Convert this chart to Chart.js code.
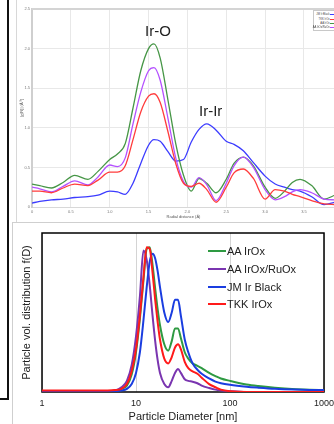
<!DOCTYPE html>
<html>
<head>
<meta charset="utf-8">
<script src="https://cdn.jsdelivr.net/npm/chart.js@4/dist/chart.umd.min.js"></script>
<style>
  html, body { margin: 0; padding: 0; background: #fff; }
  body { width: 334px; height: 424px; overflow: hidden; position: relative;
         font-family: "Liberation Sans", Arial, sans-serif; }
  .abs { position: absolute; }
  .tl { position: absolute; right: 4.5px; font-size: 6px; line-height: 6px; color: #444;
        transform: scale(0.45); transform-origin: 100% 50%; white-space: nowrap; }
  .sw { position: absolute; left: 330px; width: 5px; height: 1px; }
  .bl { position: absolute; left: 227px; font-size: 11px; line-height: 13px; color: #222; white-space: nowrap; }
  .bs { position: absolute; left: 208px; width: 18px; height: 2px; }
  .peak { position: absolute; font-size: 15px; line-height: 15px; color: #222; }
</style>
</head>
<body>
<!-- frames of the composite picture -->
<div class="abs" style="left:7px;top:0;width:2px;height:399px;background:#111"></div>
<div class="abs" style="left:0;top:398px;width:9px;height:2px;background:#111"></div>
<div class="abs" style="left:16px;top:0;width:1px;height:222px;background:#d8d8d8"></div>
<div class="abs" style="left:12px;top:222px;width:322px;height:202px;border-top:1px solid #cfcfcf;border-left:1px solid #cfcfcf"></div>

<div class="abs" style="left:17px;top:0"><canvas id="exafs" width="318" height="221"></canvas></div>
<div class="abs" style="left:13px;top:223px"><canvas id="psd" width="330" height="201"></canvas></div>

<!-- top chart labels -->
<div class="peak" style="left:145px;top:23px">Ir-O</div>
<div class="peak" style="left:199px;top:103px">Ir-Ir</div>

<!-- top legend -->
<div class="abs" style="left:313px;top:10px;width:30px;height:19px;border:1px solid #c8c8c8;background:#fff"></div>
<div class="tl" style="top:11.3px">JM Ir Black</div>
<div class="sw" style="top:14px;background:#3c3cff"></div>
<div class="tl" style="top:15.7px">TKK IrOx</div>
<div class="sw" style="top:18.5px;background:#ff3c3c"></div>
<div class="tl" style="top:20px">AA IrOx</div>
<div class="sw" style="top:22.8px;background:#469646"></div>
<div class="tl" style="top:23.7px">AA IrOx/RuOx</div>
<div class="sw" style="top:26.5px;background:#b450ff"></div>

<!-- bottom legend -->
<div class="bs" style="top:250px;background:#2e9a42"></div>
<div class="bl" style="top:244.5px">AA IrOx</div>
<div class="bs" style="top:268px;background:#7a35b0"></div>
<div class="bl" style="top:262.5px">AA IrOx/RuOx</div>
<div class="bs" style="top:286px;background:#1a3de0"></div>
<div class="bl" style="top:280.5px">JM Ir Black</div>
<div class="bs" style="top:303px;background:#ff1a1a"></div>
<div class="bl" style="top:297.5px">TKK IrOx</div>

<script>
// radial distribution (top chart)
const radial = [0, 0.1, 0.25, 0.4, 0.55, 0.72, 0.85, 1.0, 1.1, 1.2, 1.3, 1.4, 1.5, 1.57, 1.65, 1.75, 1.85, 1.95,
  2.05, 2.15, 2.25, 2.37, 2.5, 2.6, 2.72, 2.85, 3.0, 3.13, 3.25, 3.35, 3.45, 3.6, 3.76, 3.9];
const chiAaIrOx = [0.29, 0.27, 0.24, 0.31, 0.40, 0.35, 0.45, 0.60, 0.67, 0.80, 1.25, 1.72, 2.00, 2.06, 1.88, 1.35, 0.80, 0.40,
  0.20, 0.36, 0.30, 0.18, 0.35, 0.55, 0.63, 0.52, 0.25, 0.11, 0.20, 0.31, 0.35, 0.27, 0.10, 0.15];
const chiAaIrRuOx = [0.25, 0.23, 0.19, 0.26, 0.33, 0.28, 0.38, 0.53, 0.51, 0.62, 1.05, 1.45, 1.72, 1.76, 1.60, 1.12, 0.62, 0.32,
  0.25, 0.37, 0.28, 0.08, 0.30, 0.52, 0.63, 0.50, 0.22, 0.09, 0.13, 0.19, 0.22, 0.18, 0.10, 0.09];
const chiTkkIrOx = [0.20, 0.20, 0.18, 0.24, 0.29, 0.27, 0.34, 0.44, 0.44, 0.52, 0.85, 1.20, 1.40, 1.43, 1.32, 0.95, 0.55, 0.30,
  0.26, 0.30, 0.22, 0.06, 0.25, 0.43, 0.48, 0.36, 0.10, 0.22, 0.20, 0.16, 0.13, 0.08, 0.04, 0.03];
const chiJmIrBlack = [0.05, 0.07, 0.09, 0.10, 0.12, 0.13, 0.15, 0.20, 0.19, 0.16, 0.30, 0.55, 0.78, 0.85, 0.83, 0.70, 0.58, 0.60,
  0.82, 0.98, 1.05, 0.97, 0.83, 0.79, 0.71, 0.56, 0.39, 0.29, 0.25, 0.22, 0.20, 0.13, 0.03, 0.06];

// particle size distribution (bottom chart)
const diameter = [1, 2, 3, 5, 6, 7, 8, 9, 10, 11, 12, 13, 14, 15, 16, 17, 18, 20, 22, 24, 26, 28, 30,
  33, 36, 40, 45, 50, 60, 70, 80, 100, 150, 200, 300, 500, 700, 1000];
const psdAaIrOx = [0.005, 0.005, 0.005, 0.005, 0.008, 0.02, 0.04, 0.11, 0.25, 0.46, 0.70, 0.90, 0.91, 0.80, 0.65, 0.52, 0.42,
  0.30, 0.26, 0.32, 0.40, 0.40, 0.34, 0.25, 0.21, 0.18, 0.165, 0.15, 0.12, 0.10, 0.085, 0.07, 0.047, 0.037, 0.027, 0.018, 0.014, 0.012];
const psdAaIrRuOx = [0.005, 0.005, 0.005, 0.005, 0.01, 0.03, 0.07, 0.17, 0.35, 0.60, 0.89, 0.83, 0.67, 0.48, 0.32, 0.20, 0.12,
  0.05, 0.03, 0.07, 0.12, 0.145, 0.12, 0.08, 0.07, 0.065, 0.055, 0.04, 0.025, 0.015, 0.01, 0.005, 0, 0, 0, 0, 0, 0];
const psdJmIrBlack = [0.005, 0.005, 0.005, 0.005, 0.005, 0.01, 0.02, 0.05, 0.12, 0.25, 0.45, 0.66, 0.82, 0.87, 0.84, 0.76, 0.66,
  0.50, 0.44, 0.50, 0.58, 0.58, 0.48, 0.33, 0.25, 0.18, 0.14, 0.115, 0.085, 0.065, 0.055, 0.045, 0.033, 0.027, 0.02, 0.015, 0.013, 0.012];
const psdTkkIrOx = [0.01, 0.01, 0.01, 0.01, 0.012, 0.02, 0.05, 0.13, 0.27, 0.48, 0.72, 0.91, 0.90, 0.75, 0.58, 0.44, 0.33,
  0.21, 0.18, 0.22, 0.28, 0.30, 0.27, 0.19, 0.15, 0.13, 0.115, 0.09, 0.05, 0.03, 0.015, 0.005, 0, 0, 0, 0, 0, 0];
const sizeTicks = [1, 10, 100, 1000];

function pts(xs, ys) {
  return xs.map((x, i) => ({ x: x, y: ys[i] }));
}

// frame lines round the plot area
const plotEdge = {
  id: "plotEdge",
  beforeDatasetsDraw(chart, args, opts) {
    const a = chart.chartArea;
    const ctx = chart.ctx;
    ctx.save();
    ctx.strokeStyle = opts.color;
    ctx.lineWidth = opts.width;
    ctx.beginPath();
    if (opts.box) {
      ctx.rect(a.left, a.top, a.right - a.left, a.bottom - a.top);
    } else {
      ctx.moveTo(a.left, a.top);
      ctx.lineTo(a.right, a.top);
    }
    ctx.stroke();
    ctx.restore();
  },
};

const tiny = { size: 4, family: "Liberation Sans" };

new Chart(document.getElementById("exafs").getContext("2d"), {
  type: "line",
  data: {
    datasets: [
      { label: "TKK IrOx", data: pts(radial, chiTkkIrOx), borderColor: "#ff3c3c" },
      { label: "AA IrOx/RuOx", data: pts(radial, chiAaIrRuOx), borderColor: "#b450ff" },
      { label: "AA IrOx", data: pts(radial, chiAaIrOx), borderColor: "#469646" },
      { label: "JM Ir Black", data: pts(radial, chiJmIrBlack), borderColor: "#3c3cff" },
    ],
  },
  options: {
    responsive: false,
    animation: false,
    devicePixelRatio: 1,
    layout: { padding: { top: 9, left: 0, right: 0, bottom: 0 } },
    elements: {
      point: { radius: 0 },
      line: { borderWidth: 1.3, cubicInterpolationMode: "monotone", fill: false },
    },
    plugins: {
      legend: { display: false },
      tooltip: { enabled: false },
      plotEdge: { color: "#d4d4d4", width: 2, box: false },
    },
    scales: {
      x: {
        type: "linear",
        min: 0,
        max: 3.9,
        afterBuildTicks: (s) => {
          s.ticks = s.ticks.filter((t) => Math.abs(t.value * 2 - Math.round(t.value * 2)) < 1e-6);
        },
        afterFit: (s) => { s.height = 14; },
        grid: { color: "#e8e8e8", drawTicks: false },
        border: { color: "#d8d8d8" },
        ticks: { stepSize: 0.5, font: tiny, color: "#777", padding: 2, maxRotation: 0, autoSkip: false },
        title: { display: true, text: "Radial distance (Å)", font: tiny, color: "#555", padding: { top: 0, bottom: 1.5 } },
      },
      y: {
        min: 0,
        max: 2.5,
        afterFit: (s) => { s.width = 15; },
        grid: { color: "#e8e8e8", drawTicks: false },
        border: { color: "#cfcfcf", width: 2 },
        ticks: { stepSize: 0.5, font: tiny, color: "#777", padding: 2 },
        title: { display: true, text: "|χ(R)| (Å⁻³)", font: tiny, color: "#555", padding: { top: 2.5, bottom: 0 } },
      },
    },
  },
  plugins: [plotEdge],
});

new Chart(document.getElementById("psd").getContext("2d"), {
  type: "line",
  data: {
    datasets: [
      { label: "TKK IrOx", data: pts(diameter, psdTkkIrOx), borderColor: "#ff1a1a" },
      { label: "JM Ir Black", data: pts(diameter, psdJmIrBlack), borderColor: "#1a3de0" },
      { label: "AA IrOx/RuOx", data: pts(diameter, psdAaIrRuOx), borderColor: "#7a35b0" },
      { label: "AA IrOx", data: pts(diameter, psdAaIrOx), borderColor: "#2e9a42" },
    ],
  },
  options: {
    responsive: false,
    animation: false,
    devicePixelRatio: 1,
    layout: { padding: { top: 10, left: 0, right: 19, bottom: 0 } },
    elements: {
      point: { radius: 0 },
      line: { borderWidth: 2, cubicInterpolationMode: "monotone", fill: false },
    },
    plugins: {
      legend: { display: false },
      tooltip: { enabled: false },
      plotEdge: { color: "#000", width: 1.5, box: true },
    },
    scales: {
      x: {
        type: "logarithmic",
        min: 1,
        max: 1000,
        afterBuildTicks: (s) => {
          s.ticks = sizeTicks.map((v) => ({ value: v }));
        },
        afterFit: (s) => { s.height = 32; },
        grid: { color: "#d4d4d4", drawTicks: false },
        border: { display: false },
        ticks: {
          font: { size: 9, family: "Liberation Sans" }, color: "#222", padding: 6,
          maxRotation: 0, autoSkip: false, callback: (v) => String(v),
        },
        title: { display: true, text: "Particle Diameter [nm]", font: { size: 11, family: "Liberation Sans" }, color: "#222", padding: { top: 0, bottom: 0 } },
      },
      y: {
        min: 0,
        max: 1,
        afterFit: (s) => { s.width = 29; },
        grid: { display: false },
        border: { display: false },
        ticks: { display: false },
        title: { display: true, text: "Particle vol. distribution f(D)", font: { size: 11, family: "Liberation Sans" }, color: "#222", padding: { top: 7.4, bottom: 0 } },
      },
    },
  },
  plugins: [plotEdge],
});
</script>
</body>
</html>
